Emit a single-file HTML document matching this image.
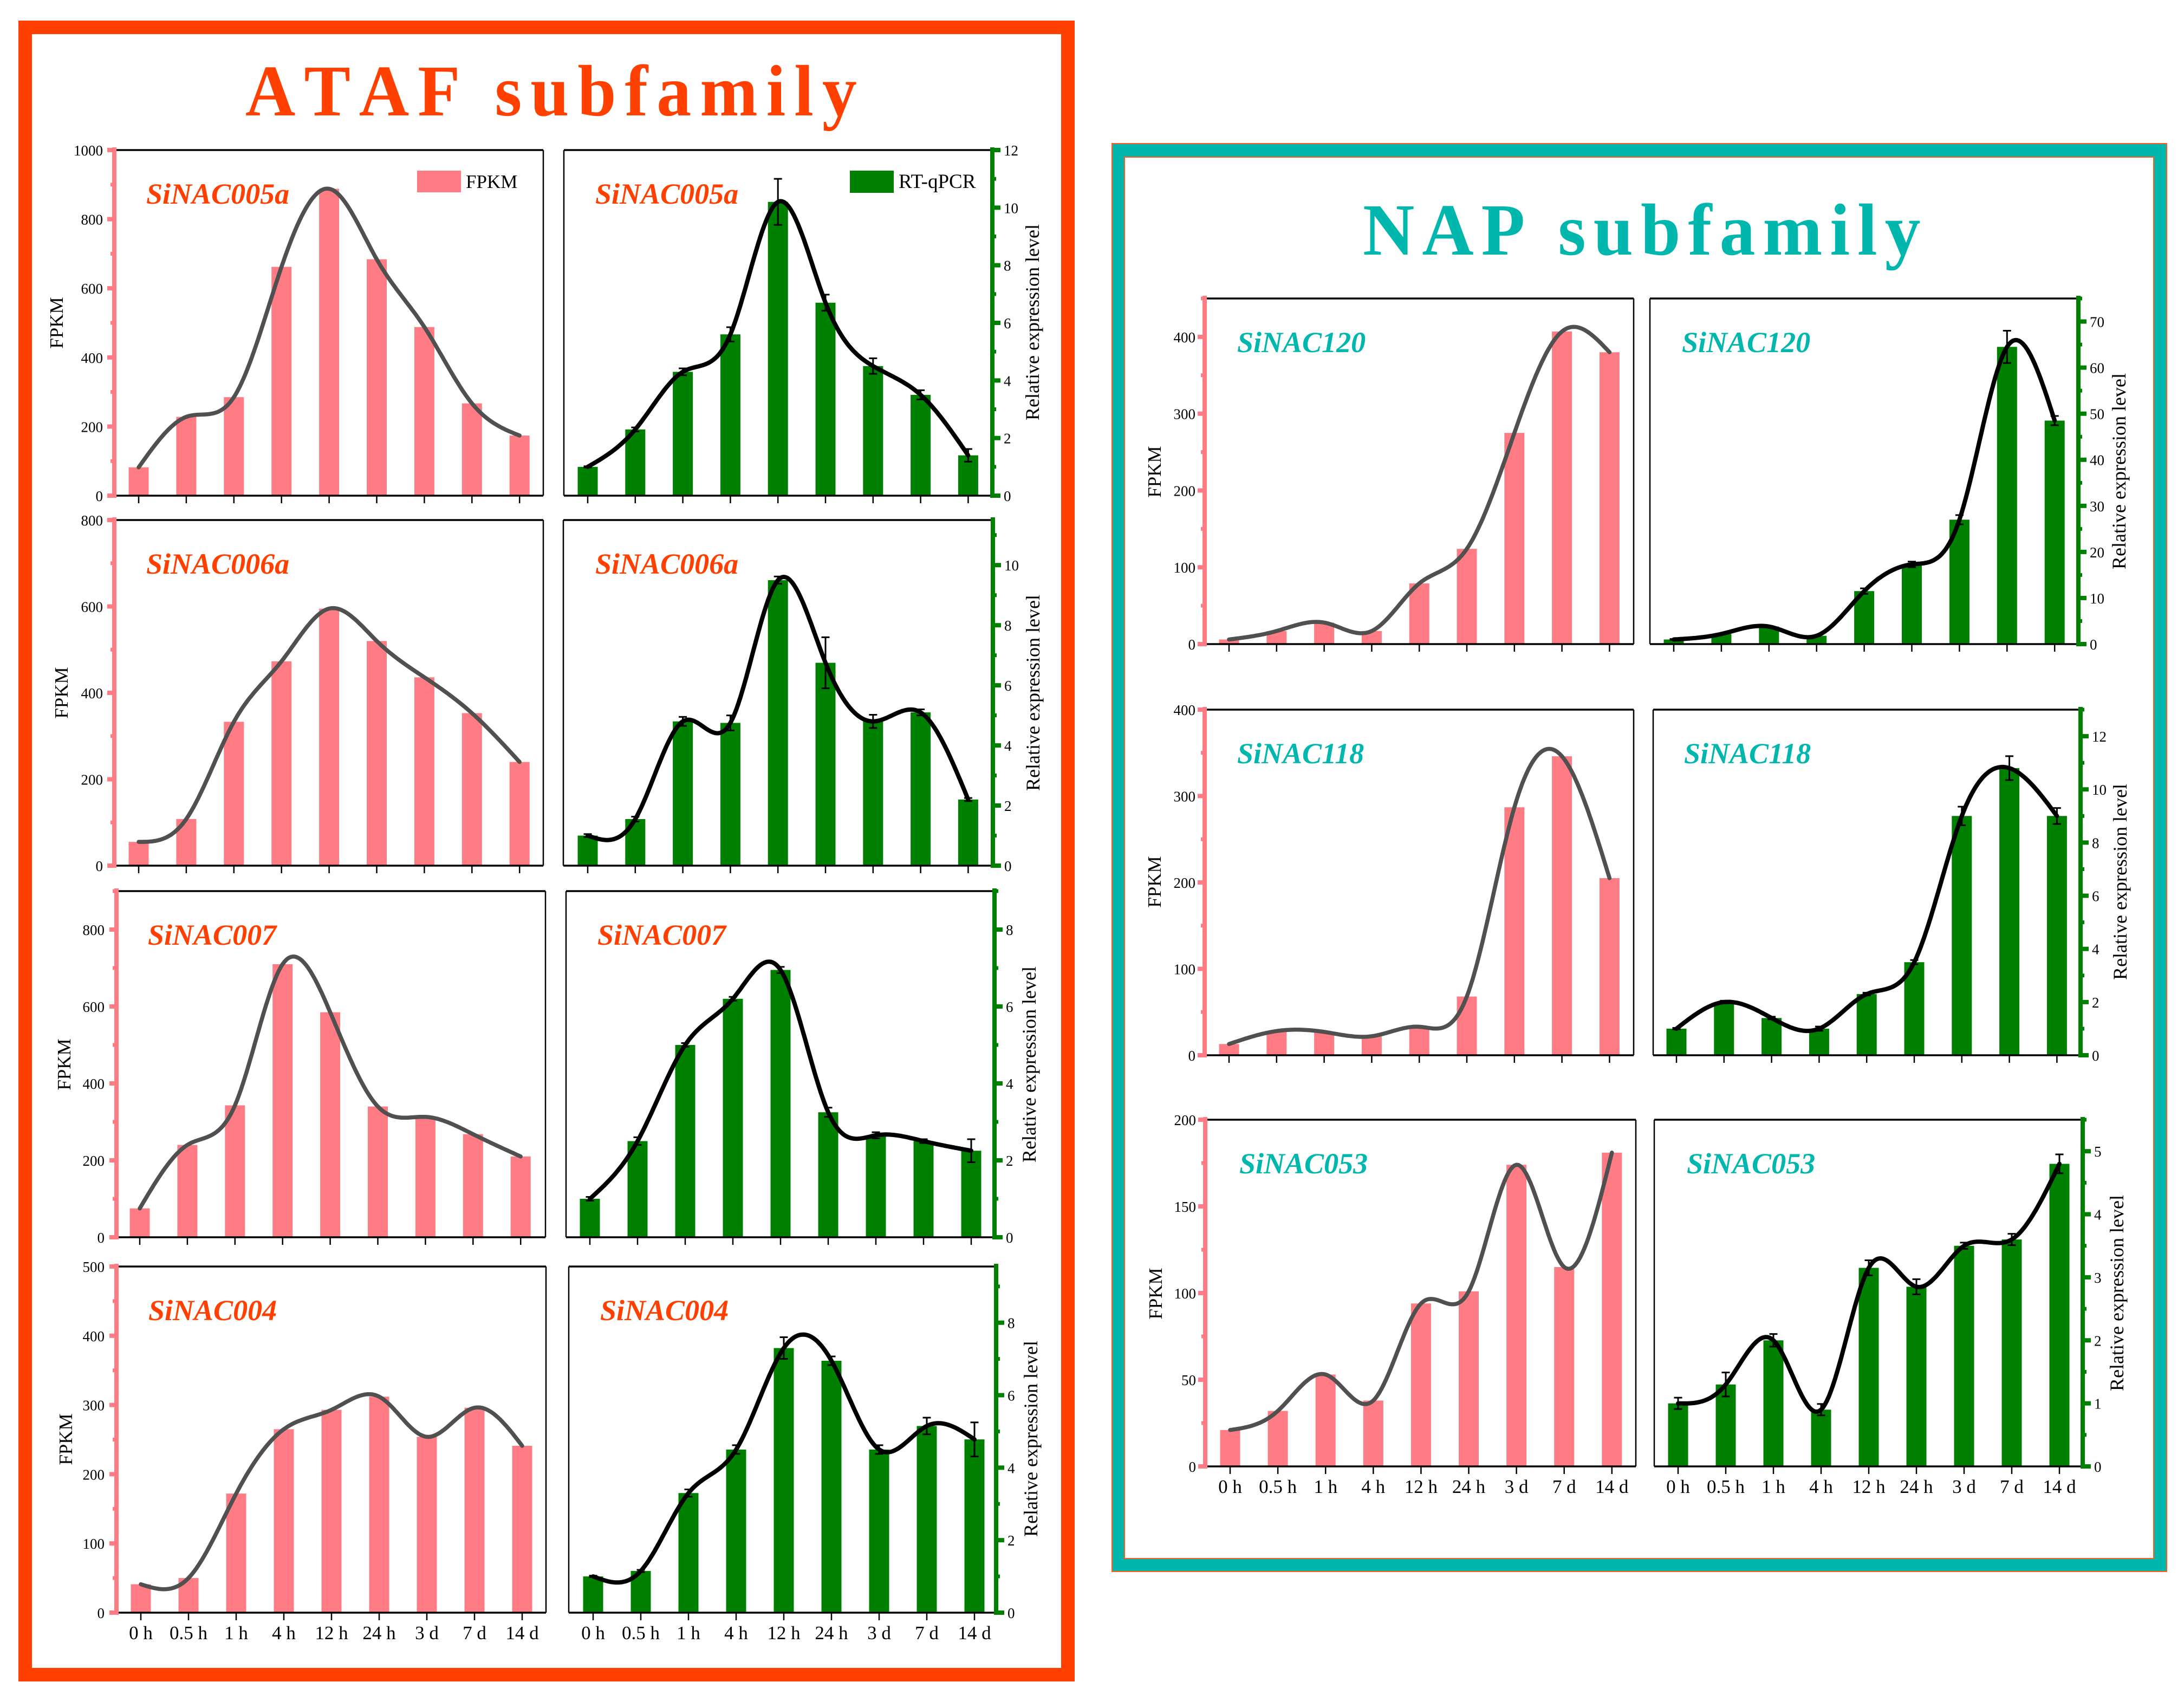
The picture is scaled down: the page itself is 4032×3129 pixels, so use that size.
<!DOCTYPE html>
<html lang="en">
<head>
<meta charset="utf-8">
<title>ATAF and NAP subfamily expression profiles</title>
<style>
html,body{margin:0;padding:0;background:#fff}
svg{display:block}
text{font-family:"Liberation Serif","DejaVu Serif",serif}
.title{font-kerning:none}
</style>
</head>
<body>
<svg id="figure" xmlns="http://www.w3.org/2000/svg" width="4032" height="3129" viewBox="0 0 4032 3129">
  <rect width="4032" height="3129" fill="#fff"/>
  <rect x="46.5" y="50.5" width="1925" height="3041" fill="#fff" stroke="#ff4000" stroke-width="25"/>
  <rect x="2053" y="265" width="1947" height="2636" fill="#00b7ae" stroke="#ff5a20" stroke-width="2"/>
  <rect x="2076" y="290" width="1900" height="2587" fill="#fff" stroke="#ff5a20" stroke-width="2"/>
  <text class="title" transform="translate(453,213) scale(1,1.05)" font-size="128" font-weight="bold" letter-spacing="16" fill="#ff4000">ATAF subfamily</text>
  <text class="title" transform="translate(2516,470) scale(1,1.03)" font-size="132" font-weight="bold" letter-spacing="14" fill="#00b7ae">NAP subfamily</text>
  <g id="charts"></g>
  <g>
    <rect x="770" y="315" width="81" height="40" fill="#ff7c85"/>
    <text x="860" y="347" font-size="35" fill="#000">FPKM</text>
  </g>
  <g>
    <rect x="1569" y="315" width="81" height="41" fill="#008000"/>
    <text x="1659" y="347" font-size="37" fill="#000">RT-qPCR</text>
  </g>
</svg>
<script>
// ---- shared data ----
const categories = ['0 h','0.5 h','1 h','4 h','12 h','24 h','3 d','7 d','14 d'];

const n005aFpkm = [82,228,285,662,888,684,488,267,174];
const n005aFpkmTicks = [0,200,400,600,800,1000];
const n005aRt = [1.0,2.3,4.3,5.6,10.2,6.7,4.5,3.5,1.4];
const n005aRtErr = [0.02,0.07,0.12,0.25,0.8,0.28,0.27,0.16,0.22];
const n005aRtTicks = [0,2,4,6,8,10,12];

const n006aFpkm = [55,108,333,473,595,520,436,353,240];
const n006aFpkmTicks = [0,200,400,600,800];
const n006aRt = [1.0,1.55,4.8,4.75,9.5,6.75,4.8,5.1,2.2];
const n006aRtErr = [0.05,0.08,0.15,0.25,0.12,0.85,0.22,0.1,0.05];
const n006aRtTicks = [0,2,4,6,8,10];

const n007Fpkm = [75,240,343,710,585,340,313,268,210];
const n007FpkmTicks = [0,200,400,600,800];
const n007Rt = [1.0,2.5,5.0,6.2,6.95,3.25,2.65,2.5,2.25];
const n007RtErr = [0.05,0.1,0.05,0.05,0.08,0.12,0.08,0.05,0.3];
const n007RtTicks = [0,2,4,6,8];

const n004Fpkm = [41,50,172,265,293,312,254,296,241];
const n004FpkmTicks = [0,100,200,300,400,500];
const n004Rt = [1.0,1.15,3.3,4.5,7.3,6.95,4.5,5.15,4.78];
const n004RtErr = [0.02,0.03,0.1,0.12,0.3,0.12,0.12,0.23,0.47];
const n004RtTicks = [0,2,4,6,8];

const n120Fpkm = [6,17,28,17,79,124,275,407,380];
const n120FpkmTicks = [0,100,200,300,400];
const n120Rt = [1,2.2,3.8,1.8,11.5,17.3,27,64.5,48.5];
const n120RtErr = [0.1,0.1,0.1,0.1,0.6,0.6,1.0,3.5,1.0];
const n120RtTicks = [0,10,20,30,40,50,60,70];

const n118Fpkm = [13,28,27,22,33,68,287,346,205];
const n118FpkmTicks = [0,100,200,300,400];
const n118Rt = [1,2,1.4,1,2.3,3.5,9,10.8,9];
const n118RtErr = [0.03,0.05,0.05,0.08,0.05,0.08,0.35,0.45,0.3];
const n118RtTicks = [0,2,4,6,8,10,12];

const n053Fpkm = [21,32,53,38,94,101,174,115,181];
const n053FpkmTicks = [0,50,100,150,200];
const n053Rt = [1.0,1.3,2.0,0.9,3.15,2.85,3.5,3.6,4.8];
const n053RtErr = [0.09,0.19,0.1,0.09,0.12,0.12,0.05,0.09,0.15];
const n053RtTicks = [0,1,2,3,4,5];

// ---- helpers ----
const NS = 'http://www.w3.org/2000/svg';
const root = document.getElementById('charts');
function make(parent, tag, attrs, txt) {
  const el = document.createElementNS(NS, tag);
  for (const k in attrs) el.setAttribute(k, attrs[k]);
  if (txt !== undefined) el.textContent = txt;
  parent.appendChild(el);
  return el;
}
// natural cubic spline through evenly spaced knots
function spline(values) {
  const n = values.length, m = new Array(n).fill(0), c = new Array(n).fill(0), d = new Array(n).fill(0);
  for (let i = 1; i < n - 1; i++) {
    const r = 6 * (values[i + 1] - 2 * values[i] + values[i - 1]);
    const den = 4 - c[i - 1];
    c[i] = 1 / den;
    d[i] = (r - d[i - 1]) / den;
  }
  for (let i = n - 2; i > 0; i--) m[i] = d[i] - c[i] * m[i + 1];
  const out = [];
  for (let i = 0; i < n - 1; i++) {
    for (let s = 0; s < 24; s++) {
      const t = s / 24, u = 1 - t;
      out.push([i + t, u * values[i] + t * values[i + 1] + ((u * u * u - u) * m[i] + (t * t * t - t) * m[i + 1]) / 6]);
    }
  }
  out.push([n - 1, values[n - 1]]);
  return out;
}

function drawPanel(p) {
  const rt = p.kind === 'rt';
  const axisX = rt ? p.right : p.left;
  const dir = rt ? 1 : -1;
  const step = p.step;
  const xPos = i => p.x0 + i * step;
  const yPos = v => p.bottom - v / p.yMax * (p.bottom - p.top);
  const barColor = rt ? '#008000' : '#ff7c85';
  const axisColor = barColor;
  const lineColor = rt ? '#000' : '#505050';

  const g = make(root, 'g', {});
  
  

  // bars
  p.values.forEach((v, i) => {
    const bar = make(g, 'rect', {x: xPos(i) - 18.5, y: yPos(v), width: 37, height: p.bottom - yPos(v), fill: barColor});
    
    
  });

  // plot frame
  const topLine = make(g, 'line', {x1: p.left, x2: p.right, y1: p.top, y2: p.top, stroke: '#000', 'stroke-width': 3.5});
  
  
  const bottomLine = make(g, 'line', {x1: p.left, x2: p.right, y1: p.bottom, y2: p.bottom, stroke: '#000', 'stroke-width': 3.5});
  
  
  const sideX = rt ? p.left : p.right;
  const sideLine = make(g, 'line', {x1: sideX, x2: sideX, y1: p.top, y2: p.bottom, stroke: '#000', 'stroke-width': 2.5});
  
  

  // x ticks + labels
  categories.forEach((c, i) => {
    const tick = make(g, 'line', {x1: xPos(i), x2: xPos(i), y1: p.bottom, y2: p.bottom + 14, stroke: '#000', 'stroke-width': 2.5});
    
    
    if (p.showX) {
      const lab = make(g, 'text', {x: xPos(i), y: p.bottom + 49, 'font-size': 35, 'text-anchor': 'middle', fill: '#000'}, c);
      
      
    }
  });

  // y axis
  const axis = make(g, 'line', {x1: axisX + dir * 3, x2: axisX + dir * 3, y1: p.top - 5, y2: p.bottom + 4, stroke: axisColor, 'stroke-width': 8});
  
  
  const tickGap = p.ticks[1] - p.ticks[0];
  for (let v = tickGap / 2; v <= p.yMax + 1e-6; v += tickGap) {
    const minor = make(g, 'rect', {x: rt ? axisX + 7 : axisX - 10, y: yPos(v) - 3.5, width: 3, height: 7, fill: axisColor});
    
    
  }
  p.ticks.forEach(v => {
    const major = make(g, 'rect', {x: rt ? axisX + 4 : axisX - 16, y: yPos(v) - 4, width: 14, height: 8, fill: axisColor});
    
    
    const lab = make(g, 'text', {x: axisX + dir * p.labelGap, y: yPos(v) + 10, 'font-size': 27, 'text-anchor': rt ? 'start' : 'end', fill: '#000'}, String(v));
    
    
  });

  // error bars
  if (p.errors) {
    p.errors.forEach((e, i) => {
      const x = xPos(i);
      const eg = make(g, 'path', {d: 'M' + x + ' ' + yPos(p.values[i] + e) + 'V' + yPos(p.values[i] - e) + 'M' + (x - 7.5) + ' ' + yPos(p.values[i] + e) + 'h15M' + (x - 7.5) + ' ' + yPos(p.values[i] - e) + 'h15', fill: 'none', stroke: '#000', 'stroke-width': 3});
      
      
    });
  }

  // smooth trend line
  const d = spline(p.values).map((q, k) => (k ? 'L' : 'M') + xPos(q[0]).toFixed(1) + ' ' + yPos(q[1]).toFixed(1)).join('');
  const trend = make(g, 'path', {d: d, fill: 'none', stroke: lineColor, 'stroke-width': rt ? 8 : 7.5, 'stroke-linecap': 'round', 'stroke-linejoin': 'round'});
  
  

  // gene name
  const gene = make(g, 'text', {x: p.geneX, y: p.top + 99, 'font-size': 54, 'font-weight': 'bold', 'font-style': 'italic', fill: p.color}, p.gene);
  
  

  // axis title
  const title = make(g, 'text', {transform: 'translate(' + p.titleX + ',' + p.titleY + ') rotate(-90)', 'font-size': rt ? 36 : 35, 'text-anchor': 'middle', fill: '#000'}, rt ? 'Relative expression level' : 'FPKM');
  
  
}

const ORANGE = '#ff4000', TEAL = '#00b7ae';

drawPanel({name:'sinac005a-fpkm', kind:'fpkm', gene:'SiNAC005a', color:ORANGE, left:214, right:1003, top:277, bottom:915, x0:256, step:87.9, values:n005aFpkm, ticks:n005aFpkmTicks, yMax:1000, labelGap:24, geneX:270, titleX:116, titleY:596});
drawPanel({name:'sinac005a-rt', kind:'rt', gene:'SiNAC005a', color:ORANGE, left:1041, right:1829, top:277, bottom:915, x0:1085, step:87.8, values:n005aRt, errors:n005aRtErr, ticks:n005aRtTicks, yMax:12, labelGap:24, geneX:1099, titleX:1918, titleY:595});

drawPanel({name:'sinac006a-fpkm', kind:'fpkm', gene:'SiNAC006a', color:ORANGE, left:214, right:1003, top:960, bottom:1598, x0:256, step:87.9, values:n006aFpkm, ticks:n006aFpkmTicks, yMax:800, labelGap:24, geneX:270, titleX:125, titleY:1279});
drawPanel({name:'sinac006a-rt', kind:'rt', gene:'SiNAC006a', color:ORANGE, left:1040, right:1830, top:960, bottom:1598, x0:1085, step:87.8, values:n006aRt, errors:n006aRtErr, ticks:n006aRtTicks, yMax:11.5, labelGap:24, geneX:1099, titleX:1919, titleY:1279});

drawPanel({name:'sinac007-fpkm', kind:'fpkm', gene:'SiNAC007', color:ORANGE, left:218, right:1007, top:1645, bottom:2284, x0:258, step:87.9, values:n007Fpkm, ticks:n007FpkmTicks, yMax:900, labelGap:25, geneX:273, titleX:130, titleY:1965});
drawPanel({name:'sinac007-rt', kind:'rt', gene:'SiNAC007', color:ORANGE, left:1045, right:1833, top:1645, bottom:2284, x0:1089, step:88, values:n007Rt, errors:n007RtErr, ticks:n007RtTicks, yMax:9, labelGap:24, geneX:1103, titleX:1912, titleY:1965});

drawPanel({name:'sinac004-fpkm', kind:'fpkm', gene:'SiNAC004', color:ORANGE, left:218, right:1008, top:2338, bottom:2977, x0:260, step:88, values:n004Fpkm, ticks:n004FpkmTicks, yMax:500, labelGap:25, showX:true, geneX:274, titleX:133, titleY:2657});
drawPanel({name:'sinac004-rt', kind:'rt', gene:'SiNAC004', color:ORANGE, left:1050, right:1836, top:2338, bottom:2977, x0:1095, step:88, values:n004Rt, errors:n004RtErr, ticks:n004RtTicks, yMax:9.55, labelGap:24, showX:true, geneX:1108, titleX:1915, titleY:2656});

drawPanel({name:'sinac120-fpkm', kind:'fpkm', gene:'SiNAC120', color:TEAL, left:2227, right:3016, top:551, bottom:1189, x0:2269, step:87.8, values:n120Fpkm, ticks:n120FpkmTicks, yMax:450, labelGap:20, geneX:2284, titleX:2143, titleY:871});
drawPanel({name:'sinac120-rt', kind:'rt', gene:'SiNAC120', color:TEAL, left:3046, right:3834, top:551, bottom:1189, x0:3090, step:87.9, values:n120Rt, errors:n120RtErr, ticks:n120RtTicks, yMax:75, labelGap:24, geneX:3105, titleX:3924, titleY:870});

drawPanel({name:'sinac118-fpkm', kind:'fpkm', gene:'SiNAC118', color:TEAL, left:2227, right:3016, top:1310, bottom:1948, x0:2269, step:87.8, values:n118Fpkm, ticks:n118FpkmTicks, yMax:400, labelGap:20, geneX:2284, titleX:2143, titleY:1628});
drawPanel({name:'sinac118-rt', kind:'rt', gene:'SiNAC118', color:TEAL, left:3052, right:3838, top:1310, bottom:1948, x0:3095, step:87.8, values:n118Rt, errors:n118RtErr, ticks:n118RtTicks, yMax:13, labelGap:24, geneX:3109, titleX:3926, titleY:1628});

drawPanel({name:'sinac053-fpkm', kind:'fpkm', gene:'SiNAC053', color:TEAL, left:2228, right:3020, top:2067, bottom:2707, x0:2271, step:88.1, values:n053Fpkm, ticks:n053FpkmTicks, yMax:200, labelGap:20, showX:true, geneX:2288, titleX:2145, titleY:2388});
drawPanel({name:'sinac053-rt', kind:'rt', gene:'SiNAC053', color:TEAL, left:3054, right:3842, top:2067, bottom:2707, x0:3098, step:88, values:n053Rt, errors:n053RtErr, ticks:n053RtTicks, yMax:5.5, labelGap:24, showX:true, geneX:3114, titleX:3920, titleY:2387});
</script>
</body>
</html>
